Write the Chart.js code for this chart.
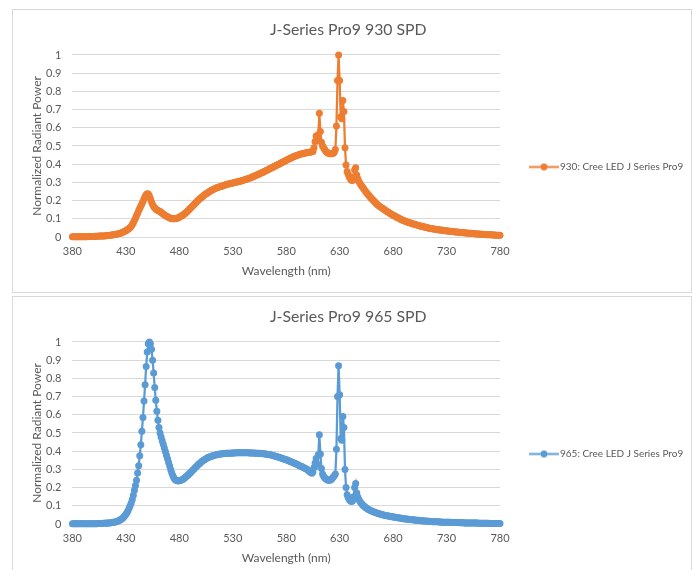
<!DOCTYPE html>
<html>
<head>
<meta charset="utf-8">
<script src="https://cdn.jsdelivr.net/npm/chart.js@4.4.1/dist/chart.umd.min.js"></script>
<style>
  body { margin: 0; background: #fff; }
  .box { position: absolute; left: 12px; width: 680px; height: 284px; box-sizing: border-box; border: 1px solid #d9d9d9; background: #fff; }
  .box canvas { display: block; }
  #box930 { top: 9px; }
  #box965 { top: 296px; }
</style>
</head>
<body>
<div class="box" id="box930"><canvas id="chart930" width="678" height="282"></canvas></div>
<div class="box" id="box965"><canvas id="chart965" width="678" height="282"></canvas></div>
<script>
// spd charts for the two J-Series Pro9 LEDs, 1 nm sampling 380..780

const wavelengths = [];
for (let nm = 380; nm <= 780; nm++) wavelengths.push(nm);

const xTicks = [380, 430, 480, 530, 580, 630, 680, 730, 780];
const yTicks = [0, 0.1, 0.2, 0.3, 0.4, 0.5, 0.6, 0.7, 0.8, 0.9, 1];
const yTickLabels = ['0', '0.1', '0.2', '0.3', '0.4', '0.5', '0.6', '0.7', '0.8', '0.9', '1'];

// 930 (3000K) normalized radiant power
const spd930 = [
  0.002,0.002,0.002,0.002,0.002,0.002,0.002,0.002,0.002,0.002, // 380
  0.002,0.002,0.002,0.002,0.003,0.003,0.003,0.003,0.003,0.003, // 390
  0.003,0.004,0.004,0.004,0.004,0.005,0.005,0.005,0.006,0.006, // 400
  0.006,0.007,0.007,0.008,0.008,0.009,0.010,0.011,0.012,0.013, // 410
  0.014,0.015,0.016,0.018,0.019,0.021,0.023,0.026,0.029,0.032, // 420
  0.035,0.038,0.042,0.047,0.052,0.059,0.068,0.078,0.090,0.103, // 430
  0.118,0.131,0.145,0.158,0.170,0.183,0.195,0.209,0.222,0.232, // 440
  0.238,0.236,0.226,0.210,0.192,0.178,0.168,0.160,0.154,0.150, // 450
  0.146,0.143,0.140,0.136,0.131,0.126,0.122,0.118,0.114,0.111, // 460
  0.108,0.105,0.103,0.101,0.100,0.100,0.100,0.101,0.103,0.106, // 470
  0.109,0.112,0.116,0.120,0.124,0.128,0.133,0.138,0.144,0.150, // 480
  0.156,0.162,0.168,0.174,0.180,0.186,0.192,0.198,0.204,0.209, // 490
  0.214,0.219,0.224,0.229,0.233,0.237,0.241,0.245,0.249,0.253, // 500
  0.256,0.259,0.262,0.265,0.268,0.270,0.272,0.274,0.276,0.278, // 510
  0.280,0.282,0.284,0.286,0.288,0.290,0.291,0.292,0.294,0.295, // 520
  0.297,0.298,0.300,0.301,0.303,0.304,0.305,0.307,0.308,0.310, // 530
  0.312,0.314,0.316,0.318,0.320,0.322,0.324,0.326,0.329,0.331, // 540
  0.334,0.337,0.339,0.342,0.344,0.347,0.350,0.353,0.355,0.358, // 550
  0.361,0.364,0.367,0.370,0.373,0.376,0.379,0.382,0.385,0.388, // 560
  0.391,0.394,0.397,0.400,0.403,0.406,0.409,0.412,0.415,0.418, // 570
  0.421,0.424,0.427,0.430,0.433,0.436,0.439,0.441,0.444,0.446, // 580
  0.448,0.450,0.452,0.454,0.456,0.458,0.459,0.460,0.461,0.463, // 590
  0.464,0.465,0.466,0.467,0.468,0.470,0.490,0.525,0.555,0.530, // 600
  0.560,0.680,0.580,0.520,0.500,0.490,0.480,0.472,0.466,0.462, // 610
  0.460,0.458,0.457,0.458,0.460,0.465,0.480,0.610,0.860,1.000, // 620
  0.860,0.660,0.650,0.750,0.690,0.490,0.395,0.360,0.345,0.330, // 630
  0.320,0.312,0.310,0.330,0.370,0.380,0.340,0.320,0.305,0.295, // 640
  0.285,0.277,0.269,0.261,0.253,0.245,0.238,0.231,0.224,0.217, // 650
  0.210,0.204,0.198,0.192,0.186,0.180,0.175,0.170,0.166,0.162, // 660
  0.158,0.154,0.150,0.146,0.142,0.138,0.134,0.130,0.127,0.123, // 670
  0.120,0.117,0.114,0.110,0.107,0.104,0.101,0.098,0.095,0.092, // 680
  0.090,0.088,0.085,0.083,0.081,0.079,0.077,0.075,0.073,0.071, // 690
  0.070,0.068,0.066,0.064,0.063,0.061,0.060,0.058,0.057,0.055, // 700
  0.054,0.053,0.051,0.050,0.048,0.047,0.046,0.045,0.044,0.043, // 710
  0.042,0.041,0.040,0.039,0.039,0.038,0.037,0.036,0.035,0.035, // 720
  0.034,0.033,0.032,0.032,0.031,0.030,0.030,0.029,0.028,0.028, // 730
  0.027,0.026,0.026,0.025,0.025,0.024,0.023,0.023,0.022,0.022, // 740
  0.021,0.021,0.020,0.020,0.019,0.019,0.018,0.018,0.017,0.017, // 750
  0.016,0.016,0.015,0.015,0.015,0.014,0.014,0.013,0.013,0.013, // 760
  0.012,0.012,0.012,0.011,0.011,0.011,0.010,0.010,0.010,0.010, // 770
  0.009                                                        // 780
];

// 965 (6500K) normalized radiant power
const spd965 = [
  0.001,0.001,0.001,0.001,0.001,0.001,0.001,0.001,0.001,0.001, // 380
  0.001,0.001,0.001,0.001,0.001,0.002,0.002,0.002,0.002,0.002, // 390
  0.002,0.002,0.002,0.002,0.003,0.003,0.003,0.003,0.003,0.004, // 400
  0.004,0.004,0.005,0.005,0.006,0.006,0.007,0.008,0.009,0.010, // 410
  0.011,0.013,0.015,0.017,0.020,0.023,0.027,0.032,0.038,0.045, // 420
  0.053,0.062,0.073,0.086,0.100,0.116,0.135,0.158,0.185,0.212, // 430
  0.240,0.280,0.320,0.375,0.435,0.510,0.585,0.675,0.765,0.865, // 440
  0.945,0.990,1.000,0.990,0.960,0.900,0.830,0.750,0.680,0.620, // 450
  0.570,0.530,0.500,0.478,0.458,0.438,0.418,0.398,0.378,0.358, // 460
  0.338,0.318,0.298,0.280,0.265,0.253,0.245,0.240,0.237,0.236, // 470
  0.237,0.239,0.242,0.245,0.249,0.253,0.258,0.263,0.268,0.274, // 480
  0.280,0.286,0.292,0.298,0.304,0.310,0.316,0.322,0.328,0.333, // 490
  0.338,0.343,0.347,0.351,0.355,0.359,0.362,0.365,0.368,0.370, // 500
  0.372,0.374,0.376,0.378,0.379,0.380,0.382,0.383,0.384,0.385, // 510
  0.386,0.386,0.387,0.387,0.388,0.388,0.389,0.389,0.389,0.390, // 520
  0.390,0.390,0.390,0.391,0.391,0.391,0.391,0.391,0.391,0.391, // 530
  0.391,0.391,0.391,0.391,0.391,0.391,0.390,0.390,0.390,0.390, // 540
  0.390,0.389,0.389,0.389,0.388,0.388,0.387,0.387,0.386,0.386, // 550
  0.385,0.384,0.383,0.382,0.381,0.380,0.379,0.378,0.376,0.374, // 560
  0.372,0.370,0.369,0.367,0.365,0.363,0.361,0.359,0.357,0.355, // 570
  0.353,0.351,0.348,0.346,0.343,0.341,0.338,0.336,0.333,0.331, // 580
  0.328,0.325,0.322,0.319,0.317,0.314,0.311,0.308,0.305,0.302, // 590
  0.298,0.293,0.288,0.283,0.279,0.285,0.310,0.335,0.360,0.330, // 600
  0.380,0.490,0.385,0.305,0.275,0.262,0.254,0.248,0.244,0.241, // 610
  0.240,0.241,0.244,0.250,0.258,0.265,0.275,0.410,0.700,0.870, // 620
  0.710,0.470,0.460,0.590,0.530,0.300,0.200,0.160,0.145,0.135, // 630
  0.128,0.124,0.127,0.150,0.200,0.222,0.170,0.148,0.135,0.124, // 640
  0.115,0.108,0.102,0.097,0.092,0.088,0.084,0.080,0.077,0.074, // 650
  0.071,0.069,0.066,0.064,0.062,0.060,0.058,0.056,0.054,0.053, // 660
  0.051,0.050,0.048,0.047,0.046,0.045,0.043,0.042,0.041,0.040, // 670
  0.039,0.038,0.037,0.036,0.035,0.034,0.033,0.032,0.031,0.030, // 680
  0.029,0.028,0.028,0.027,0.026,0.025,0.025,0.024,0.023,0.023, // 690
  0.022,0.021,0.021,0.020,0.020,0.019,0.018,0.018,0.017,0.017, // 700
  0.016,0.016,0.015,0.015,0.015,0.014,0.014,0.013,0.013,0.013, // 710
  0.012,0.012,0.012,0.011,0.011,0.011,0.010,0.010,0.010,0.010, // 720
  0.009,0.009,0.009,0.009,0.009,0.008,0.008,0.008,0.008,0.008, // 730
  0.008,0.008,0.007,0.007,0.007,0.007,0.007,0.006,0.006,0.006, // 740
  0.006,0.006,0.006,0.005,0.005,0.005,0.005,0.005,0.005,0.005, // 750
  0.004,0.004,0.004,0.004,0.004,0.004,0.004,0.004,0.004,0.004, // 760
  0.003,0.003,0.003,0.003,0.003,0.003,0.003,0.003,0.003,0.003, // 770
  0.003                                                        // 780
];

const FONT = 'Lato, "Open Sans", sans-serif';
const TEXT = '#595959';
const GRID = '#d9d9d9';

// little line-with-dot swatch for the legend, like excel's
function legendIcon(color) {
  const c = document.createElement('canvas');
  c.width = 30; c.height = 9;
  const g = c.getContext('2d');
  g.strokeStyle = color;
  g.lineWidth = 2;
  g.beginPath(); g.moveTo(0, 4.5); g.lineTo(30, 4.5); g.stroke();
  g.fillStyle = color;
  g.beginPath(); g.arc(15, 4.5, 3.4, 0, Math.PI * 2); g.fill();
  return c;
}

function makeChart(canvasId, title, label, values, color) {
  const icon = legendIcon(color);
  return new Chart(document.getElementById(canvasId), {
    type: 'line',
    data: {
      labels: wavelengths,
      datasets: [{
        label: label,
        data: values,
        borderColor: color,
        backgroundColor: color,
        borderWidth: 2.25,
        pointRadius: 3.5,
        pointBorderWidth: 0,
        pointBackgroundColor: color,
        tension: 0,
        clip: 6
      }]
    },
    options: {
      responsive: false,
      animation: false,
      // legend is wider than chart.js' default cap, so pin it with maxWidth
      layout: { padding: { left: 0, right: 7.5, top: 0, bottom: 0 } },
      plugins: {
        tooltip: { enabled: false },
        title: {
          display: true,
          text: title,
          color: TEXT,
          font: { family: FONT, size: 15.8, weight: 'normal' },
          padding: { top: 10, bottom: 16 }
        },
        legend: {
          position: 'right',
          maxWidth: 183.5,
          title: { display: true, text: ' ', font: { size: 11 }, padding: { top: 0, bottom: 18.8 } },
          labels: {
            usePointStyle: true,
            pointStyleWidth: 22,
            padding: 33,
            color: TEXT,
            font: { family: FONT, size: 10 },
            generateLabels: (chart) => {
              const items = Chart.defaults.plugins.legend.labels.generateLabels(chart);
              items.forEach(it => { it.pointStyle = icon; });
              return items;
            }
          }
        }
      },
      scales: {
        x: {
          type: 'linear',
          min: 380,
          max: 780,
          afterBuildTicks: s => { s.ticks = xTicks.map(v => ({ value: v })); },
          afterFit: s => { s.height = 55; },
          grid: { display: false, drawTicks: false },
          border: { display: false },
          ticks: { color: TEXT, font: { family: FONT, size: 11 }, padding: 8, maxRotation: 0, autoSkip: false },
          title: {
            display: true,
            text: 'Wavelength (nm)',
            color: TEXT,
            font: { family: FONT, size: 12 },
            padding: { top: 0, bottom: 14 }
          }
        },
        y: {
          min: 0,
          max: 1,
          afterBuildTicks: s => { s.ticks = yTicks.map(v => ({ value: v })); },
          afterFit: s => { s.width = 59.4; },
          grid: { color: GRID, lineWidth: 1, drawTicks: false },
          border: { display: false },
          ticks: {
            color: TEXT,
            font: { family: FONT, size: 11 },
            padding: 11,
            callback: (v, i) => yTickLabels[i]
          },
          title: {
            display: true,
            text: 'Normalized Radiant Power',
            color: TEXT,
            font: { family: FONT, size: 12 },
            padding: { top: 17, bottom: 0 }
          }
        }
      }
    }
  });
}

makeChart('chart930', 'J-Series Pro9 930 SPD', '930: Cree LED J Series Pro9', spd930, '#ED7D31');
makeChart('chart965', 'J-Series Pro9 965 SPD', '965: Cree LED J Series Pro9', spd965, '#5B9BD5');
</script>
</body>
</html>
